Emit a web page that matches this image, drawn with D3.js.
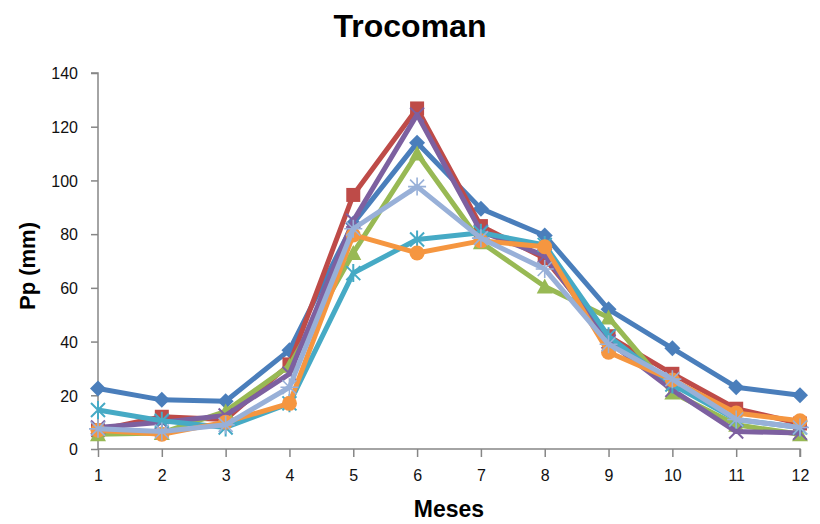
<!DOCTYPE html>
<html>
<head>
<meta charset="utf-8">
<script src="https://cdn.jsdelivr.net/npm/d3@7/dist/d3.min.js"></script>
<style>
  html, body { margin: 0; padding: 0; background: #fff; }
  svg { display: block; }
  .tick text { font-family: "Liberation Sans", Arial, sans-serif; font-size: 16px; fill: #111; }
</style>
</head>
<body>
<svg id="chart" width="820" height="524"></svg>
<script>
// Monthly precipitation (mm) at Trocoman, one series per record
const months = [1, 2, 3, 4, 5, 6, 7, 8, 9, 10, 11, 12];
const yTicks = [0, 20, 40, 60, 80, 100, 120, 140];

const serieA = [22.5, 18.3, 17.8, 36.8, 84, 114, 89.5, 79.5, 52, 37.5, 23, 20];
const serieB = [7, 12, 11, 31.5, 94.6, 126.8, 83, 71, 42, 28, 15, 9.5];
const serieC = [5.5, 6, 14, 31, 73, 110, 77, 60.5, 49, 21, 9, 5.5];
const serieD = [8, 10, 12.5, 28, 85, 124.5, 81, 72, 40, 22, 6.5, 6];
const serieE = [14.5, 10.5, 8, 17, 65.5, 78, 80.5, 76, 42, 24, 11, 8];
const serieF = [7, 5.5, 10, 17, 79.7, 73, 77.5, 75.3, 36, 25.7, 13.4, 10.5];
const serieG = [7.5, 6.5, 9, 23, 82, 97.7, 78.5, 67, 39, 26, 11, 8];

const series = [
  { values: serieA, color: "#4A7EBB", marker: "diamond" },
  { values: serieB, color: "#BE4B48", marker: "square" },
  { values: serieC, color: "#98B954", marker: "triangle" },
  { values: serieD, color: "#7D60A0", marker: "x" },
  { values: serieE, color: "#46AAC5", marker: "asterisk" },
  { values: serieF, color: "#F59640", marker: "circle" },
  { values: serieG, color: "#98B0D8", marker: "plus" }
];

const svg = d3.select("#chart");

const x = d3.scaleLinear().domain([1, 12]).range([98, 800]);
const y = d3.scaleLinear().domain([0, 140]).range([449, 73]);

// Axes
const axisColor = "#868686";
const gy = svg.append("g")
  .attr("transform", `translate(${x(1)},0)`)
  .call(d3.axisLeft(y).tickValues(yTicks).tickSize(7).tickPadding(13));
const gx = svg.append("g")
  .attr("transform", `translate(0,${y(0)})`)
  .call(d3.axisBottom(x).tickValues(months).tickSize(8).tickPadding(13).tickFormat(d3.format("d")));
[gx, gy].forEach(g => {
  g.select(".domain").attr("stroke", axisColor).attr("stroke-width", 1.5);
  g.selectAll(".tick line").attr("stroke", axisColor).attr("stroke-width", 1.5);
});
gy.select(".domain").attr("d", `M-7,${y(140)}H0V${y(0)}`);
gx.select(".domain").attr("d", `M${x(1)},0H${x(12)}V8`);
gy.selectAll(".tick text").attr("dy", "0.36em");

// Lines and markers
const line = d3.line().x((d, i) => x(months[i])).y(d => y(d));

function drawMarker(g, type, color) {
  const s = 7;
  switch (type) {
    case "diamond":
      g.append("path").attr("d", `M0,${-s - 1}L${s + 1},0L0,${s + 1}L${-s - 1},0Z`).attr("fill", color);
      break;
    case "square":
      g.append("rect").attr("x", -s).attr("y", -s).attr("width", 2 * s).attr("height", 2 * s).attr("fill", color);
      break;
    case "triangle":
      g.append("path").attr("d", `M0,${-s - 1}L${s + 1},${s}L${-s - 1},${s}Z`).attr("fill", color);
      break;
    case "circle":
      g.append("circle").attr("r", s + 0.5).attr("fill", color);
      break;
    case "x":
      g.append("path").attr("d", `M${-s},${-s}L${s},${s}M${-s},${s}L${s},${-s}`)
        .attr("stroke", color).attr("stroke-width", 2);
      break;
    case "asterisk":
      g.append("path").attr("d", `M${-s},${-s}L${s},${s}M${-s},${s}L${s},${-s}M0,${-s - 2}V${s + 2}`)
        .attr("stroke", color).attr("stroke-width", 2);
      break;
    case "plus":
      g.append("path").attr("d", `M${-s - 2},0H${s + 2}M0,${-s - 2}V${s + 2}M${-s},${-s}L${s},${s}M${-s},${s}L${s},${-s}`)
        .attr("stroke", color).attr("stroke-width", 1.6);
      break;
  }
}

series.forEach(s => {
  const g = svg.append("g");
  g.append("path")
    .datum(s.values)
    .attr("d", line)
    .attr("fill", "none")
    .attr("stroke", s.color)
    .attr("stroke-width", 5)
    .attr("stroke-linejoin", "round");
  s.values.forEach((v, i) => {
    const m = g.append("g").attr("transform", `translate(${x(months[i])},${y(v)})`);
    drawMarker(m, s.marker, s.color);
  });
});

// Titles
svg.append("text")
  .attr("x", 410).attr("y", 37)
  .attr("text-anchor", "middle")
  .attr("font-family", "Liberation Sans, Arial, sans-serif")
  .attr("font-weight", "bold").attr("font-size", 32)
  .attr("fill", "#000")
  .text("Trocoman");

svg.append("text")
  .attr("x", 449).attr("y", 517)
  .attr("text-anchor", "middle")
  .attr("font-family", "Liberation Sans, Arial, sans-serif")
  .attr("font-weight", "bold").attr("font-size", 23)
  .attr("fill", "#000")
  .text("Meses");

svg.append("text")
  .attr("transform", `translate(35,${(y(0) + y(140)) / 2 + 5}) rotate(-90)`)
  .attr("text-anchor", "middle")
  .attr("font-family", "Liberation Sans, Arial, sans-serif")
  .attr("font-weight", "bold").attr("font-size", 22)
  .attr("fill", "#000")
  .text("Pp (mm)");
</script>
</body>
</html>
